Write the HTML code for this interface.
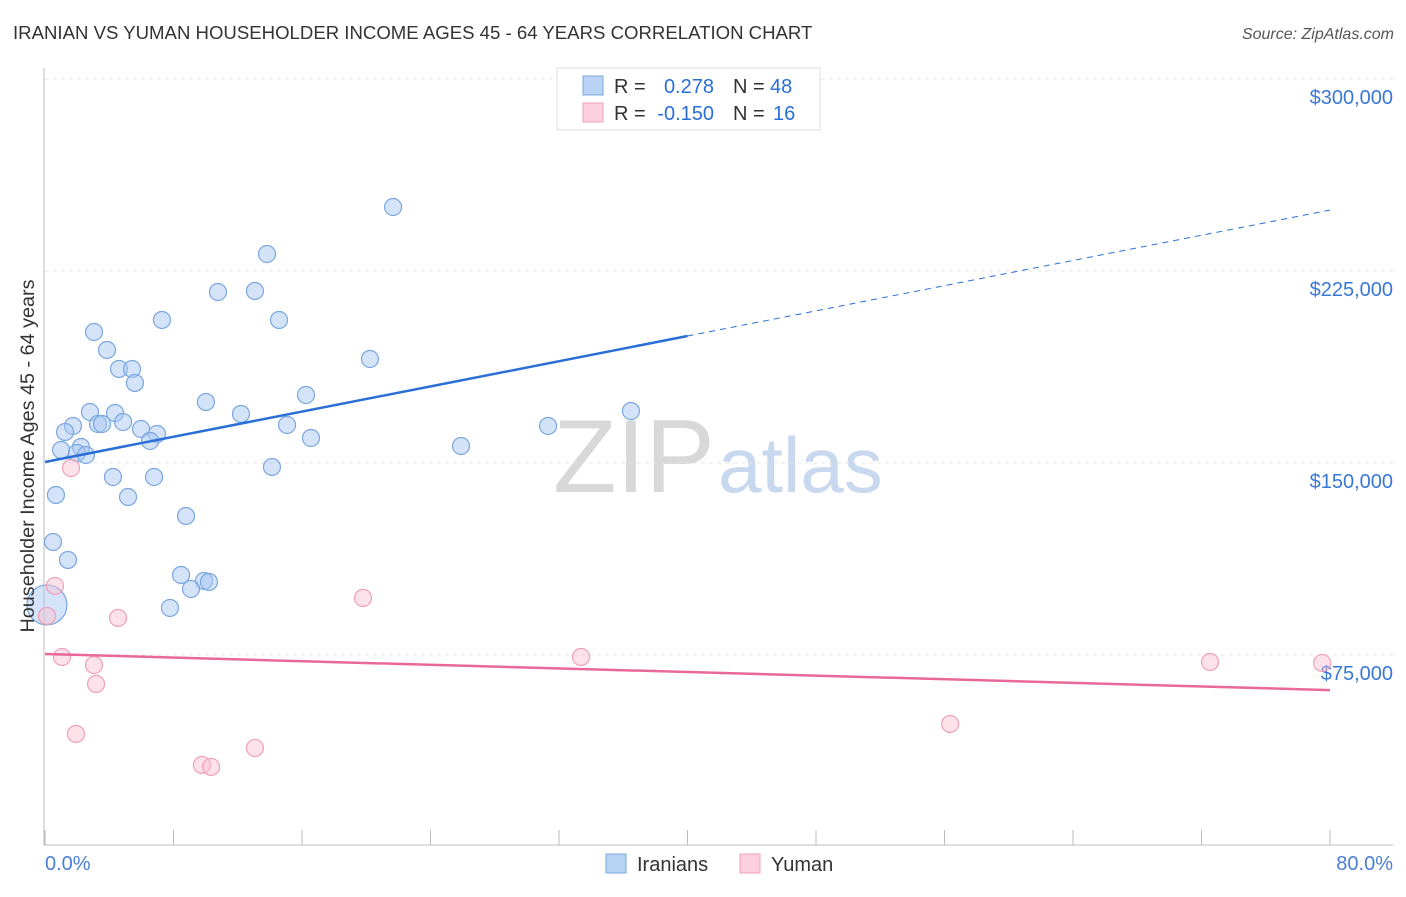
<!DOCTYPE html>
<html><head><meta charset="utf-8"><style>
body{margin:0;background:#fff;font-family:"Liberation Sans",sans-serif}
svg text{font-family:"Liberation Sans",sans-serif}
</style></head><body>
<svg id="chart" width="1406" height="892" xmlns="http://www.w3.org/2000/svg">
<text x="13" y="39" font-size="18.6" fill="#333">IRANIAN VS YUMAN HOUSEHOLDER INCOME AGES 45 - 64 YEARS CORRELATION CHART</text>
<text x="1394" y="39" font-size="16" fill="#555" font-style="italic" text-anchor="end">Source: ZipAtlas.com</text>
<text x="553" y="492" font-size="104" fill="#d8d8d8" font-family="Liberation Serif,serif">ZIP</text>
<text x="718" y="492" font-size="78" fill="#c8d8ee">atlas</text>
<g id="grid"></g><g id="axes"></g><g id="marks"></g>
<text transform="translate(34,456) rotate(-90)" font-size="19.8" fill="#333" text-anchor="middle">Householder Income Ages 45 - 64 years</text>
<text x="45" y="870" font-size="20" fill="#4a7fd4">0.0%</text>
<text x="1393" y="870" font-size="20" fill="#4a7fd4" text-anchor="end">80.0%</text>
<g>
<rect x="557" y="68" width="263" height="62" fill="#fff" stroke="#ddd"/>
<rect x="583" y="76" width="20" height="19" fill="#b9d3f5" stroke="#7aa7e0"/>
<rect x="583" y="103" width="20" height="19" fill="#fcd0dc" stroke="#f0a0b8"/>
<text x="614" y="93" font-size="20" fill="#333">R =</text>
<text x="714" y="93" font-size="20" fill="#2a6fd6" text-anchor="end">0.278</text>
<text x="733" y="93" font-size="20" fill="#333">N =</text>
<text x="770" y="93" font-size="20" fill="#2a6fd6">48</text>
<text x="614" y="120" font-size="20" fill="#333">R =</text>
<text x="714" y="120" font-size="20" fill="#2a6fd6" text-anchor="end">-0.150</text>
<text x="733" y="120" font-size="20" fill="#333">N =</text>
<text x="773" y="120" font-size="20" fill="#2a6fd6">16</text>
</g>
<g>
<rect x="606" y="854" width="20" height="19" fill="#b9d3f5" stroke="#7aa7e0"/>
<text x="637" y="871" font-size="20" fill="#333">Iranians</text>
<rect x="740" y="854" width="20" height="19" fill="#fcd0dc" stroke="#f0a0b8"/>
<text x="771" y="871" font-size="20" fill="#333">Yuman</text>
</g>
</svg>
<script>
const yTicks=[75000,150000,225000,300000];
const yTickLabels=["$75,000","$150,000","$225,000","$300,000"];
const xTicks=[0,8,16,24,32,40,48,56,64,72,80];
const iranX=[21.67,13.82,10.77,13.07,7.28,14.57,3.05,3.86,20.23,4.61,5.42,5.60,16.25,10.02,2.80,4.36,12.20,36.48,1.74,3.30,3.55,4.86,1.25,15.07,5.98,6.97,6.54,16.56,31.32,25.90,2.24,1.00,1.99,2.55,14.13,4.23,6.79,0.68,5.17,8.78,0.50,1.43,8.47,9.90,10.21,9.09,7.78,0.12];
const iranY=[250000,231640,216800,217200,205870,205870,201180,194150,190630,186730,186730,181260,176570,173840,169930,169540,169150,170320,164460,165240,165240,166020,162120,164850,163290,161330,158600,159770,164460,156650,156260,155090,153910,153130,148450,144540,144540,137510,136730,129310,119150,112120,106260,103920,103530,100790,93370,94550];
const yumanX=[1.62,0.62,19.80,4.55,0.12,1.06,3.05,33.37,72.53,79.51,3.18,56.35,1.93,13.07,9.77,10.34];
const yumanY=[148050,101970,97280,89470,90250,74230,71100,74230,72280,71890,63690,48060,44150,38690,32050,31270];
const iranTrend=[150400,248800];
const yumanTrend=[75400,61300];
const X=v=>45+v/80*1285, Y=v=>79+(300000-v)/75000*192;
const NS="http://www.w3.org/2000/svg";
function mk(p,t,a){const e=document.createElementNS(NS,t);for(const k in a)e.setAttribute(k,a[k]);document.getElementById(p).appendChild(e);return e;}
yTicks.forEach((v,i)=>{
 let l=mk('grid','line',{x1:45,x2:1393,y1:Y(v),y2:Y(v),stroke:'#e4e4e4','stroke-dasharray':'4,4'});
 
 
 let t=mk('grid','text',{x:1393,y:Y(v)+25,'font-size':20,fill:'#3a78d6','text-anchor':'end'});t.textContent=yTickLabels[i];
 
 
});
mk('grid','line',{x1:45,x2:1393,y1:79,y2:79,stroke:'#e4e4e4','stroke-dasharray':'4,4'});
mk('axes','line',{x1:44,x2:44,y1:68,y2:845,stroke:'#bbb'});
mk('axes','line',{x1:44,x2:1393,y1:845,y2:845,stroke:'#bbb'});
xTicks.forEach(v=>{let t=mk('axes','line',{x1:X(v),x2:X(v),y1:830,y2:845,stroke:'#bbb'});
 
 });
iranX.forEach((x,i)=>{let c=mk('marks','circle',{cx:X(x),cy:Y(iranY[i]),r:i==iranX.length-1?20:8.5,fill:'rgba(170,200,242,0.5)',stroke:'#7aa7e0','stroke-width':1.2});
 
 });
yumanX.forEach((x,i)=>{let c=mk('marks','circle',{cx:X(x),cy:Y(yumanY[i]),r:8.5,fill:'rgba(250,190,208,0.45)',stroke:'#f0a0b8','stroke-width':1.2});
 
 });
const midI=iranTrend[0]+(iranTrend[1]-iranTrend[0])*0.5;
let a=mk('marks','line',{x1:X(0),y1:Y(iranTrend[0]),x2:X(40),y2:Y(midI),stroke:'#2a6fd6','stroke-width':2.5});


let b=mk('marks','line',{x1:X(40),y1:Y(midI),x2:X(80),y2:Y(iranTrend[1]),stroke:'#2a6fd6','stroke-width':1,'stroke-dasharray':'6,5'});


let c=mk('marks','line',{x1:X(0),y1:Y(yumanTrend[0]),x2:X(80),y2:Y(yumanTrend[1]),stroke:'#e8689a','stroke-width':2.5});


</script>
</body></html>
